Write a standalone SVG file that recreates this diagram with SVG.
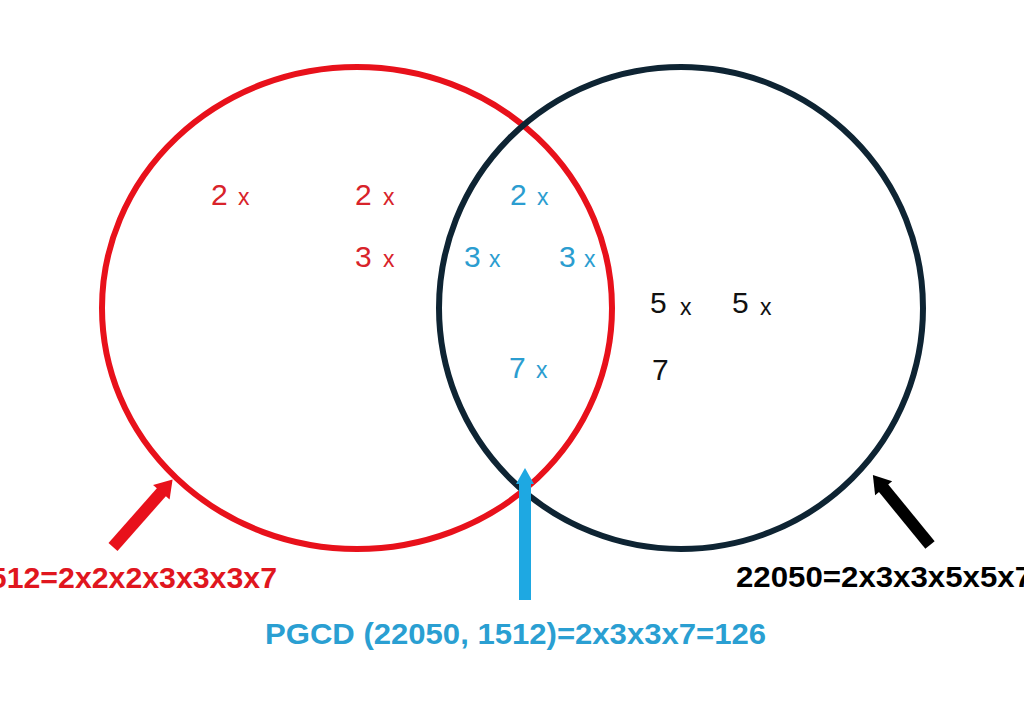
<svg xmlns="http://www.w3.org/2000/svg" width="1024" height="723" viewBox="0 0 1024 723">
<style>
.n{font-family:"Liberation Sans",Arial,sans-serif;font-size:30px}
.x{font-size:23px}
.red{fill:#d8232a}
.blue{fill:#2b9dd0}
.blk{fill:#111}
.lbl{font-family:"Liberation Sans",Arial,sans-serif;font-size:30px;font-weight:bold}
.arr{stroke-width:12;fill:none}
</style>
<defs>
<marker id="hr" viewBox="-2 -12 20 24" markerWidth="20" markerHeight="24" refX="0" refY="0" markerUnits="userSpaceOnUse" orient="auto"><path d="M-1,-11 L16,0 L-1,11 z" fill="#e8111b"/></marker>
<marker id="hk" viewBox="-2 -12 20 24" markerWidth="20" markerHeight="24" refX="0" refY="0" markerUnits="userSpaceOnUse" orient="auto"><path d="M-1,-11 L16,0 L-1,11 z" fill="#000"/></marker>
<marker id="hb" viewBox="-2 -12 20 24" markerWidth="20" markerHeight="24" refX="0" refY="0" markerUnits="userSpaceOnUse" orient="auto"><path d="M-1,-9 L15,0 L-1,9 z" fill="#1ea8e2"/></marker>
</defs>
<rect width="1024" height="723" fill="#fff"/>
<g id="set1512">
<ellipse cx="357" cy="308" rx="255" ry="241" fill="none" stroke="#e8111b" stroke-width="6"/>
</g>
<g id="set22050">
<ellipse cx="681" cy="308" rx="242" ry="241" fill="none" stroke="#0e2433" stroke-width="6"/>
</g>
<g id="factors-1512" class="n red">
<text x="211" y="205">2<tspan class="x" x="238">x</tspan></text>
<text x="355" y="205">2<tspan class="x" x="383">x</tspan></text>
<text x="355" y="267">3<tspan class="x" x="383">x</tspan></text>
</g>
<g id="factors-common" class="n blue">
<text x="510" y="205">2<tspan class="x" x="537">x</tspan></text>
<text x="464" y="267">3<tspan class="x" x="489">x</tspan></text>
<text x="559" y="267">3<tspan class="x" x="584">x</tspan></text>
<text x="509" y="378">7<tspan class="x" x="536">x</tspan></text>
</g>
<g id="factors-22050" class="n blk">
<text x="650" y="313">5<tspan class="x" x="680" dy="2">x</tspan></text>
<text x="732" y="313">5<tspan class="x" x="760" dy="2">x</tspan></text>
<text x="652" y="380">7</text>
</g>
<g id="connectors">
<line class="arr" x1="113" y1="547" x2="162" y2="491.5" stroke="#e8111b" marker-end="url(#hr)"/>
<line class="arr" x1="930" y1="545" x2="883" y2="487.5" stroke="#000" marker-end="url(#hk)"/>
<line class="arr" x1="525" y1="600" x2="525" y2="483" stroke="#1ea8e2" stroke-width="11" marker-end="url(#hb)"/>
</g>
<g id="label-1512">
<text class="lbl" x="277" y="588" text-anchor="end" fill="#e0161e" textLength="304" lengthAdjust="spacingAndGlyphs">1512=2x2x2x3x3x3x7</text>
</g>
<g id="label-22050">
<text class="lbl" x="736" y="587" fill="#000" textLength="296" lengthAdjust="spacingAndGlyphs">22050=2x3x3x5x5x7</text>
</g>
<g id="label-pgcd">
<text class="lbl" x="265" y="644" fill="#2a9fd2" textLength="501" lengthAdjust="spacingAndGlyphs">PGCD (22050, 1512)=2x3x3x7=126</text>
</g>
</svg>
